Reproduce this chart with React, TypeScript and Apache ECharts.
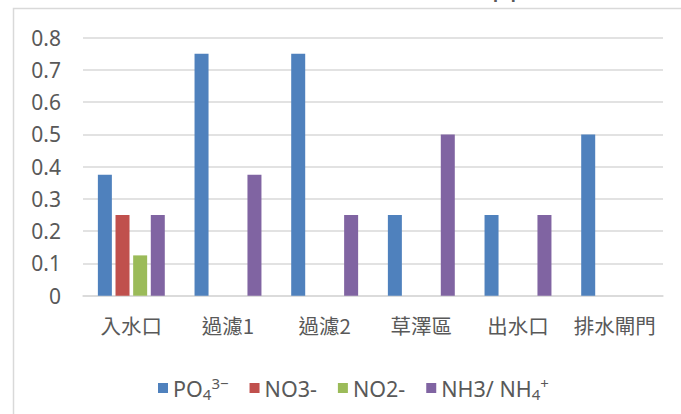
import React, { useEffect, useRef } from "react";
import * as echarts from "echarts";

const categories = ["入水口", "過濾1", "過濾2", "草澤區", "出水口", "排水閘門"];
const po4Values = [0.375, 0.75, 0.75, 0.25, 0.25, 0.5];
const no3Values = [0.25, null, null, null, null, null];
const no2Values = [0.125, null, null, null, null, null];
const nhValues = [0.25, 0.375, 0.25, 0.5, 0.25, null];
const seriesNames = ["PO4", "NO3-", "NO2-", "NH3/ NH4+"];
const legendLabels: Record<string, string> = {
  "PO4": "PO{sub|4}{sup|3−}",
  "NO3-": "NO3-",
  "NO2-": "NO2-",
  "NH3/ NH4+": "NH3/ NH{sub|4}{sup|+}",
};
const colors = ["#4f81bd", "#c0504d", "#9bbb59", "#8064a2"];
const titleText = "(ppm)";

export default function App() {
  const ref = useRef<HTMLDivElement>(null);
  useEffect(() => {
    document.body.style.margin = "0";
    const chart = echarts.init(ref.current!, null, { renderer: "svg" });
    const font = "'Noto Sans', 'Noto Sans CJK TC', sans-serif";
    const values = [po4Values, no3Values, no2Values, nhValues];
    chart.setOption({
      animation: false,
      backgroundColor: "#ffffff",
      color: colors,
      textStyle: { fontFamily: font },
      graphic: [
        {
          type: "rect",
          shape: { x: 13.5, y: 8.5, width: 720, height: 440 },
          style: { fill: "none", stroke: "#d9d9d9", lineWidth: 1.5 },
          silent: true,
        },
        {
          type: "text",
          x: 483,
          y: -2,
          style: {
            text: titleText,
            font: "29px 'Noto Sans', sans-serif",
            fill: "#595959",
            verticalAlign: "bottom",
          },
          silent: true,
        },
      ],
      grid: { left: 83, right: 18, top: 37.7, bottom: 118.3, containLabel: false },
      legend: {
        left: 153,
        top: 370,
        itemWidth: 10,
        itemHeight: 10,
        itemGap: 21,
        icon: "rect",
        data: seriesNames,
        formatter: (name: string) => legendLabels[name] ?? name,
        textStyle: {
          fontFamily: font,
          fontSize: 21.5,
          color: "#595959",
          rich: {
            sub: { fontSize: 15, color: "#595959", fontFamily: font, padding: [11, 0, 0, 0] },
            sup: { fontSize: 15, color: "#595959", fontFamily: font, padding: [0, 0, 11, 0] },
          },
        },
      },
      xAxis: {
        type: "category",
        data: categories,
        axisLine: { show: true, lineStyle: { color: "#d9d9d9", width: 1.5 } },
        axisTick: { show: false },
        axisLabel: {
          color: "#595959",
          fontSize: 20.5,
          margin: 19,
          interval: 0,
          fontFamily: "'Noto Sans CJK TC', 'Noto Sans', sans-serif",
        },
      },
      yAxis: {
        type: "value",
        min: 0,
        max: 0.8,
        interval: 0.1,
        axisLine: { show: false },
        axisTick: { show: false },
        splitLine: { lineStyle: { color: "#d9d9d9", width: 1.5 } },
        axisLabel: { color: "#595959", fontSize: 21, margin: 22, fontFamily: font },
      },
      series: seriesNames.map((n, i) => ({
        name: n,
        type: "bar",
        data: values[i],
        barWidth: 14,
        barGap: "26%",
        itemStyle: { color: colors[i] },
      })),
    });
    return () => chart.dispose();
  }, []);
  return <div ref={ref} style={{ width: 681, height: 414 }} />;
}
